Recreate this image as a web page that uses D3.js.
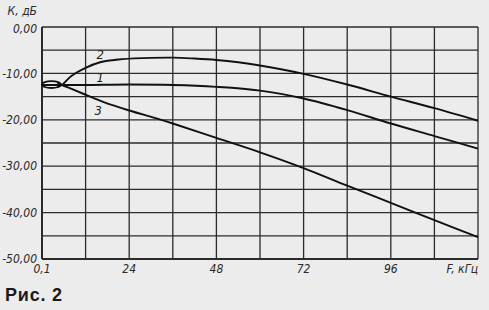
<!DOCTYPE html>
<html>
<head>
<meta charset="utf-8">
<script src="https://cdn.jsdelivr.net/npm/d3@7"></script>
<style>
    body { margin: 0; background: #ececec; }
    svg { display: block; }
    .tick-label { font-family: "Liberation Sans Narrow", "DejaVu Sans Condensed", sans-serif; font-style: italic; font-size: 12px; fill: #2a2a2a; }
    .curve-label { font-family: "Liberation Sans Narrow", "DejaVu Sans Condensed", sans-serif; font-style: italic; font-size: 13px; fill: #222; }
    .caption { font-family: "Liberation Sans", Arial, sans-serif; font-weight: bold; font-size: 18px; fill: #1a1a1a; letter-spacing: 0.8px; }
</style>
</head>
<body>
<div id="chart"></div>
<script>
// axis ticks
var xTicks = [0, 24, 48, 72, 96, 120];
var xTickLabels = ["0,1", "24", "48", "72", "96", "F, кГц"];
var yTicks = [0, -10, -20, -30, -40, -50];
var yTickLabels = ["0,00", "-10,00", "-20,00", "-30,00", "-40,00", "-50,00"];
var xGrid = [0, 12, 24, 36, 48, 60, 72, 84, 96, 108, 120];
var yGrid = [0, -5, -10, -15, -20, -25, -30, -35, -40, -45, -50];

// curve 1
var freq1 = [0, 6, 12, 24, 36, 48, 60, 72, 84, 96, 108, 120];
var gain1 = [-12.5, -12.5, -12.5, -12.4, -12.5, -12.9, -13.7, -15.4, -17.9, -20.8, -23.5, -26.2];

// curve 2
var freq2 = [4.2, 5.5, 8, 12, 16, 21, 28, 36, 42, 48, 54, 60, 72, 84, 96, 108, 120];
var gain2 = [-12.9, -12.5, -10.6, -8.8, -7.6, -7.0, -6.7, -6.6, -6.8, -7.1, -7.6, -8.3, -10.1, -12.4, -15.0, -17.5, -20.2];

// curve 3
var freq3 = [4.2, 5.5, 8, 12, 17, 24, 31, 36, 48, 60, 72, 84, 96, 108, 120];
var gain3 = [-12.2, -12.5, -13.3, -14.6, -16.2, -18.0, -19.6, -20.8, -23.9, -27.0, -30.4, -34.2, -37.9, -41.6, -45.3];

// small loop at the start: centre (kHz, dB) and radii (kHz, dB)
var loopCenter = [2.6, -12.4];
var loopRadius = [2.6, 0.75];

// curve numbers: name, kHz, dB
var curveNames = ["2", "1", "3"];
var curveNameF = [16, 16, 15.5];
var curveNameG = [-5.9, -10.9, -17.9];

var width = 489, height = 310;
var margin = {left: 42, right: 11, top: 27, bottom: 51};

var svg = d3.select("#chart").append("svg")
    .attr("width", width)
    .attr("height", height);

var x = d3.scaleLinear().domain([0, 120]).range([margin.left, width - margin.right]);
var y = d3.scaleLinear().domain([0, -50]).range([margin.top, height - margin.bottom]);

//grid
svg.append("g").selectAll("line").data(xGrid).enter().append("line")
    .attr("x1", function(d) { return x(d); })
    .attr("x2", function(d) { return x(d); })
    .attr("y1", y(0)).attr("y2", y(-50))
    .style("stroke", "#2b2b2b")
    .style("stroke-width", function(d) { return d == 0 ? 2 : 1.3; });

svg.append("g").selectAll("line").data(yGrid).enter().append("line")
    .attr("y1", function(d) { return y(d); })
    .attr("y2", function(d) { return y(d); })
    .attr("x1", x(0)).attr("x2", x(120))
    .style("stroke", "#2b2b2b")
    .style("stroke-width", function(d) { return d == -50 ? 2 : 1.3; });

//tick labels
svg.append("g").selectAll("text").data(yTicks).enter().append("text")
    .attr("class", "tick-label")
    .attr("x", x(0) - 5)
    .attr("y", function(d) { return y(d) + (d == 0 ? 2 : 0); })
    .attr("dy", "0.35em")
    .attr("text-anchor", "end")
    .text(function(d, i) { return yTickLabels[i]; });

svg.append("text")
    .attr("class", "tick-label")
    .attr("x", x(0) - 5)
    .attr("y", 15)
    .attr("text-anchor", "end")
    .text("К, дБ");

svg.append("g").selectAll("text").data(xTicks).enter().append("text")
    .attr("class", "tick-label")
    .attr("x", function(d) { return x(d); })
    .attr("y", y(-50) + 14)
    .attr("text-anchor", function(d) { return d == 120 ? "end" : "middle"; })
    .text(function(d, i) { return xTickLabels[i]; });

//curves
var line = d3.line()
    .x(function(d) { return x(d[0]); })
    .y(function(d) { return y(d[1]); })
    .curve(d3.curveCatmullRom.alpha(0.5));

var series = [[freq1, gain1], [freq2, gain2], [freq3, gain3]];
series.forEach(function(s) {
    svg.append("path")
        .datum(d3.zip(s[0], s[1]))
        .attr("d", line)
        .style("fill", "none")
        .style("stroke", "#111")
        .style("stroke-width", 1.9);
});

svg.append("ellipse")
    .attr("cx", x(loopCenter[0]))
    .attr("cy", y(loopCenter[1]))
    .attr("rx", x(loopRadius[0]) - x(0))
    .attr("ry", y(-loopRadius[1]) - y(0))
    .style("fill", "none")
    .style("stroke", "#111")
    .style("stroke-width", 1.8);

svg.append("g").selectAll("text").data(curveNames).enter().append("text")
    .attr("class", "curve-label")
    .attr("x", function(d, i) { return x(curveNameF[i]); })
    .attr("y", function(d, i) { return y(curveNameG[i]); })
    .attr("dy", "0.35em")
    .attr("text-anchor", "middle")
    .text(function(d) { return d; });

svg.append("text")
    .attr("class", "caption")
    .attr("x", 5)
    .attr("y", 301)
    .text("Рис. 2");
</script>
</body>
</html>
